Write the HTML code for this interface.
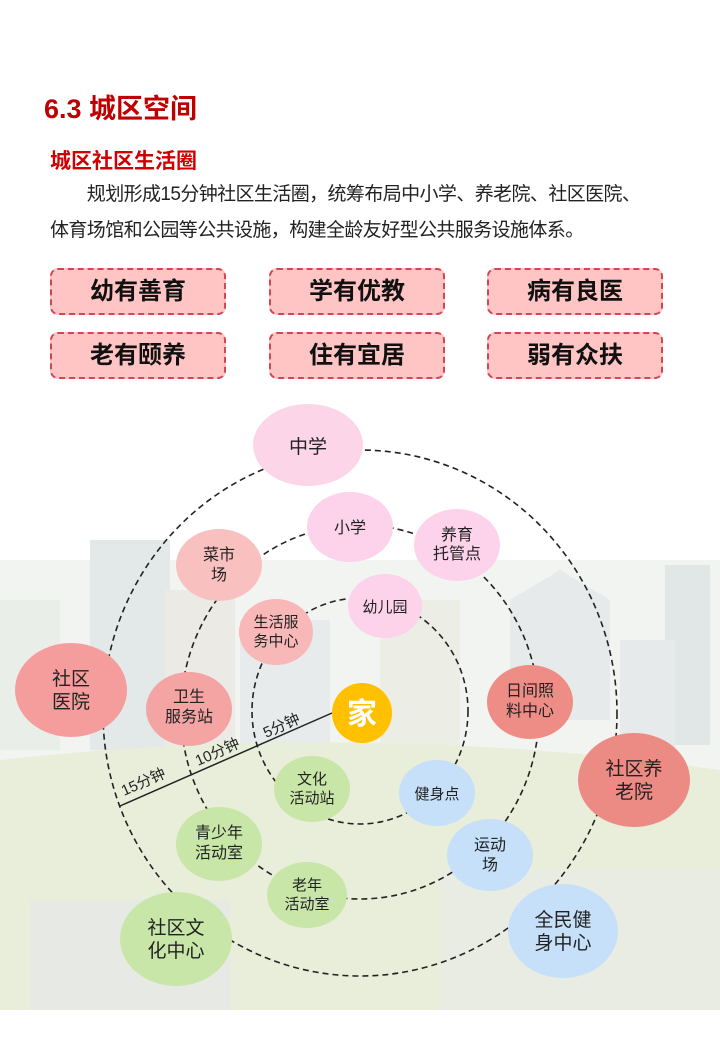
<!DOCTYPE html>
<html><head><meta charset="utf-8"><style>
body{margin:0;width:720px;height:1040px;background:#fff;font-family:"Liberation Sans","Noto Sans CJK SC",sans-serif;position:relative;overflow:hidden}
.h1{position:absolute;left:44px;top:87px;font-size:27px;font-weight:bold;color:#c00000}
.h2{position:absolute;left:50px;top:145px;font-size:21px;font-weight:bold;color:#d00000}
.p{position:absolute;left:50px;top:177px;width:680px;font-size:19px;line-height:36px;color:#222;letter-spacing:-0.6px;white-space:nowrap}
.b{position:absolute;width:172px;height:43px;background:#ffc4c4;border:2px dashed #d24656;border-radius:8px;font-size:24px;font-weight:bold;text-align:center;line-height:43px;color:#111}
svg{position:absolute;left:0;top:0}
</style></head><body>
<svg width="720" height="1040" viewBox="0 0 720 1040" font-family="Liberation Sans,Noto Sans CJK SC,sans-serif">
<g opacity="0.8">
<rect x="0" y="560" width="720" height="450" fill="#f0f2ee"/>
<rect x="90" y="540" width="80" height="210" fill="#dde3e3"/>
<rect x="165" y="590" width="70" height="160" fill="#e8e6df"/>
<rect x="240" y="620" width="90" height="130" fill="#e2e7e7"/>
<rect x="380" y="600" width="80" height="150" fill="#e8eadf"/>
<polygon points="510,600 560,570 610,600 610,720 510,720" fill="#e0e6e6"/>
<rect x="665" y="565" width="45" height="180" fill="#dae0e0"/>
<rect x="620" y="640" width="55" height="110" fill="#e0e6e6"/>
<rect x="0" y="600" width="60" height="150" fill="#e6eae3"/>
<path d="M0 760 Q360 720 720 770 L720 1010 L0 1010Z" fill="#e4ead2"/>
<rect x="440" y="870" width="280" height="140" fill="#e4e8dc"/>
<rect x="30" y="900" width="200" height="110" fill="#e2e6de"/>
</g>
<g fill="none" stroke="#222" stroke-width="1.6" stroke-dasharray="6,4">
<ellipse cx="360" cy="713" rx="257" ry="263"/>
<ellipse cx="360" cy="712" rx="179" ry="187"/>
<ellipse cx="360" cy="711" rx="108" ry="113"/>
</g>
<line x1="120" y1="806" x2="332" y2="713" stroke="#222" stroke-width="1.5"/>
<g font-size="15" fill="#222">
<text transform="translate(124,796) rotate(-24)">15分钟</text>
<text transform="translate(198,766) rotate(-24)">10分钟</text>
<text transform="translate(266,738) rotate(-24)">5分钟</text>
</g>
<g text-anchor="middle" fill="#222">
<ellipse cx="308" cy="445" rx="55" ry="41" fill="#fcd5e8"/><text x="308" y="453" font-size="19">中学</text>
<ellipse cx="350" cy="527" rx="43" ry="35" fill="#fcd3ea"/><text x="350" y="533" font-size="16">小学</text>
<ellipse cx="457" cy="545" rx="43" ry="36" fill="#fcd3ea"/><text x="457" y="540" font-size="16">养育</text><text x="457" y="559" font-size="16">托管点</text>
<ellipse cx="219" cy="565" rx="43" ry="36" fill="#f9c0c0"/><text x="219" y="560" font-size="16">菜市</text><text x="219" y="580" font-size="16">场</text>
<ellipse cx="385" cy="606" rx="37" ry="32" fill="#fcd3ea"/><text x="385" y="612" font-size="15">幼儿园</text>
<ellipse cx="276" cy="632" rx="37" ry="33" fill="#f8b8b8"/><text x="276" y="627" font-size="15">生活服</text><text x="276" y="646" font-size="15">务中心</text>
<ellipse cx="71" cy="690" rx="56" ry="47" fill="#f59c9c"/><text x="71" y="685" font-size="19">社区</text><text x="71" y="708" font-size="19">医院</text>
<ellipse cx="189" cy="709" rx="43" ry="37" fill="#f5a4a4"/><text x="189" y="702" font-size="16">卫生</text><text x="189" y="722" font-size="16">服务站</text>
<ellipse cx="530" cy="702" rx="43" ry="37" fill="#ee8c86"/><text x="530" y="696" font-size="16">日间照</text><text x="530" y="716" font-size="16">料中心</text>
<circle cx="362" cy="713" r="30" fill="#ffc000"/><text x="362" y="724" font-size="30" font-weight="bold" fill="#fff">家</text>
<ellipse cx="634" cy="780" rx="56" ry="47" fill="#ec8b83"/><text x="634" y="775" font-size="19">社区养</text><text x="634" y="798" font-size="19">老院</text>
<ellipse cx="312" cy="789" rx="38" ry="33" fill="#c8e6a8"/><text x="312" y="784" font-size="15">文化</text><text x="312" y="803" font-size="15">活动站</text>
<ellipse cx="437" cy="793" rx="38" ry="33" fill="#c5e0f8"/><text x="437" y="799" font-size="15">健身点</text>
<ellipse cx="219" cy="844" rx="43" ry="37" fill="#c8e6a8"/><text x="219" y="838" font-size="16">青少年</text><text x="219" y="858" font-size="16">活动室</text>
<ellipse cx="490" cy="855" rx="43" ry="36" fill="#c5e0f8"/><text x="490" y="850" font-size="16">运动</text><text x="490" y="870" font-size="16">场</text>
<ellipse cx="307" cy="895" rx="40" ry="33" fill="#c8e6a8"/><text x="307" y="890" font-size="15">老年</text><text x="307" y="909" font-size="15">活动室</text>
<ellipse cx="176" cy="939" rx="56" ry="47" fill="#c8e6a8"/><text x="176" y="934" font-size="19">社区文</text><text x="176" y="957" font-size="19">化中心</text>
<ellipse cx="563" cy="931" rx="55" ry="47" fill="#c5e0f8"/><text x="563" y="926" font-size="19">全民健</text><text x="563" y="949" font-size="19">身中心</text>
</g>
</svg>
<div class="h1">6.3 城区空间</div>
<div class="h2">城区社区生活圈</div>
<div class="p">&emsp;&emsp;规划形成15分钟社区生活圈，统筹布局中小学、养老院、社区医院、<br>体育场馆和公园等公共设施，构建全龄友好型公共服务设施体系。</div>
<div class="b" style="left:50px;top:268px">幼有善育</div>
<div class="b" style="left:269px;top:268px">学有优教</div>
<div class="b" style="left:487px;top:268px">病有良医</div>
<div class="b" style="left:50px;top:332px">老有颐养</div>
<div class="b" style="left:269px;top:332px">住有宜居</div>
<div class="b" style="left:487px;top:332px">弱有众扶</div>
</body></html>
